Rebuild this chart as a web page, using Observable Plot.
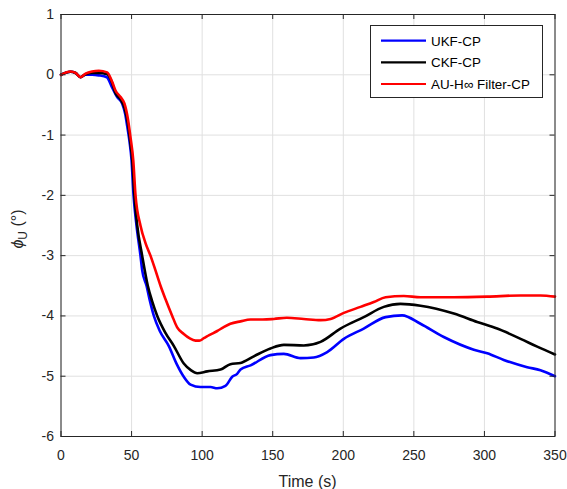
<!DOCTYPE html>
<html>
<head>
<meta charset="utf-8">
<script src="https://cdn.jsdelivr.net/npm/d3@7"></script>
<script src="https://cdn.jsdelivr.net/npm/@observablehq/plot@0.6"></script>
<style>
  html, body { margin: 0; padding: 0; background: #fff; }
  #chart { position: relative; width: 567px; height: 489px; }
</style>
</head>
<body>
<div id="chart"></div>
<script>
const xTicks = [0, 50, 100, 150, 200, 250, 300, 350];
const yTicks = [-6, -5, -4, -3, -2, -1, 0, 1];
const seriesNames = ["UKF-CP", "CKF-CP", "AU-H\u221E Filter-CP"];
const seriesColors = ["#0000ff", "#000000", "#ff0000"];

const ukfT = [0, 6.7, 10.3, 13.8, 17.4, 22, 26.8, 32.5, 36, 39.8, 43.4, 45.5, 46.9, 48.5, 50, 51.4, 53.5, 56.3, 57.5, 60.6, 63, 65.8, 70, 76.4, 82, 87, 91.8, 98.8, 105.9, 110.7, 116.5, 121.3, 124.8, 127.2, 134.3, 148.4, 157.9, 169.7, 179.1, 188.6, 200.4, 214.5, 230, 241.7, 254.7, 271.2, 292.5, 302, 313.7, 330.3, 339.7, 350];
const ukfV = [0, 0.05, 0.03, -0.04, 0.0, 0.0, -0.01, -0.04, -0.2, -0.37, -0.48, -0.65, -0.85, -1.1, -1.42, -2.0, -2.5, -3.0, -3.24, -3.5, -3.75, -4.0, -4.25, -4.5, -4.8, -5.01, -5.14, -5.18, -5.18, -5.2, -5.16, -5.01, -4.96, -4.89, -4.82, -4.65, -4.63, -4.70, -4.69, -4.60, -4.38, -4.21, -4.02, -3.99, -4.13, -4.35, -4.56, -4.62, -4.73, -4.85, -4.9, -5.0];

const ckfT = [0, 6.7, 10.3, 13.8, 17.4, 22, 26.8, 32.7, 36, 38.5, 42.5, 45, 47.3, 49, 50.5, 52, 54, 57.5, 61.5, 64.5, 68.2, 74, 80, 87, 92, 96.5, 103.6, 113, 120, 127.2, 136.6, 148.4, 157.9, 172, 183.9, 198, 214.5, 228.7, 240.5, 254.7, 278.3, 294.9, 309, 325.6, 337.4, 350];
const ckfV = [0, 0.05, 0.03, -0.04, 0.01, 0.03, 0.03, 0.01, -0.12, -0.3, -0.42, -0.55, -0.8, -1.1, -1.42, -2.0, -2.5, -3.0, -3.5, -3.75, -4.0, -4.28, -4.5, -4.79, -4.9, -4.95, -4.92, -4.89, -4.8, -4.78, -4.67, -4.54, -4.48, -4.49, -4.43, -4.21, -4.02, -3.85, -3.8, -3.83, -3.96, -4.1, -4.21, -4.38, -4.51, -4.64];

const auT = [0, 6.7, 10.3, 13.8, 17.4, 22, 26.8, 32.7, 36.3, 38.6, 42.2, 45, 47.6, 49.2, 51.2, 52.8, 56.3, 60, 63.4, 67, 70.5, 74, 78.8, 82.3, 87, 91, 95.3, 98, 101.2, 105, 110.7, 115, 120, 127.2, 134.3, 143, 150.8, 160, 172, 183.9, 191, 200.4, 212.2, 221.6, 230, 242.9, 254.7, 278.3, 302, 325.6, 339.7, 350];
const auV = [0, 0.055, 0.03, -0.04, 0.02, 0.055, 0.066, 0.04, -0.12, -0.26, -0.37, -0.48, -0.76, -1.03, -1.42, -2.0, -2.5, -2.8, -3.0, -3.25, -3.5, -3.72, -4.0, -4.19, -4.3, -4.37, -4.41, -4.41, -4.37, -4.32, -4.25, -4.19, -4.13, -4.09, -4.06, -4.06, -4.05, -4.03, -4.05, -4.07, -4.05, -3.95, -3.85, -3.77, -3.69, -3.67, -3.69, -3.69, -3.68, -3.66, -3.66, -3.68];

const toRows = (ts, vs) => ts.map((t, i) => ({t, v: vs[i]}));
const series = [toRows(ukfT, ukfV), toRows(ckfT, ckfV), toRows(auT, auV)];

const W = 567, H = 489;
const mL = 60.5, mR = 12.5, mT = 14, mB = 53;
const fw = W - mL - mR, fh = H - mT - mB;
const axisColor = "#262626";
const gridColor = "#e0e0e0";
const font = "'Liberation Sans', Arial, Helvetica, sans-serif";
const fmt = d => String(d);

const plot = Plot.plot({
  width: W, height: H,
  marginLeft: mL, marginRight: mR, marginTop: mT, marginBottom: mB,
  style: {fontFamily: font, fontSize: "14px", color: axisColor, background: "#fff", overflow: "visible"},
  x: {domain: [0, 350]},
  y: {domain: [-6, 1]},
  marks: [
    Plot.ruleX(xTicks, {x: d => d, stroke: gridColor, strokeWidth: 1}),
    Plot.ruleY(yTicks, {y: d => d, stroke: gridColor, strokeWidth: 1}),
    ...series.map((s, i) => Plot.line(s, {x: "t", y: "v", stroke: seriesColors[i], strokeWidth: 2.6, curve: "monotone-x"})),
    Plot.ruleX(xTicks, {x: d => d, stroke: axisColor, insetTop: fh - 5}),
    Plot.ruleX(xTicks, {x: d => d, stroke: axisColor, insetBottom: fh - 5}),
    Plot.ruleY(yTicks, {y: d => d, stroke: axisColor, insetRight: fw - 5}),
    Plot.ruleY(yTicks, {y: d => d, stroke: axisColor, insetLeft: fw - 5}),
    Plot.frame({stroke: axisColor, strokeWidth: 1}),
    Plot.axisX(xTicks, {anchor: "bottom", tickSize: 0, tickPadding: 14, label: null, fontSize: 14, tickFormat: fmt}),
    Plot.axisY(yTicks, {anchor: "left", tickSize: 0, tickPadding: 7, label: null, fontSize: 14, tickFormat: fmt})
  ]
});

document.getElementById("chart").appendChild(plot);

const svg = d3.select(plot);
// x label
svg.append("text")
  .attr("x", mL + fw / 2).attr("y", 487)
  .attr("text-anchor", "middle")
  .attr("font-family", font).attr("font-size", 16).attr("fill", axisColor)
  .text("Time (s)");
// y label
const yl = svg.append("text")
  .attr("transform", `translate(23,229) rotate(-90)`)
  .attr("text-anchor", "middle")
  .attr("font-family", font).attr("font-size", 16).attr("fill", axisColor);
yl.append("tspan").attr("font-style", "italic").text("\u03D5");
yl.append("tspan").attr("font-size", 12).attr("dy", 4).text("U");
yl.append("tspan").attr("dy", -4).text(" (\u00B0)");

// legend
const lg = svg.append("g");
lg.append("rect").attr("x", 370.5).attr("y", 25.5).attr("width", 172).attr("height", 72)
  .attr("fill", "#fff").attr("stroke", axisColor).attr("stroke-width", 1);
const rowsY = [40.7, 62.3, 84];
seriesNames.forEach((name, i) => {
  lg.append("line").attr("x1", 381).attr("x2", 426).attr("y1", rowsY[i]).attr("y2", rowsY[i])
    .attr("stroke", seriesColors[i]).attr("stroke-width", 2.2);
  lg.append("text").attr("x", 431).attr("y", rowsY[i]).attr("dy", "0.36em")
    .attr("text-anchor", "start")
    .attr("font-family", font).attr("font-size", 13.4).attr("fill", "#000")
    .text(name);
});
</script>
</body>
</html>
